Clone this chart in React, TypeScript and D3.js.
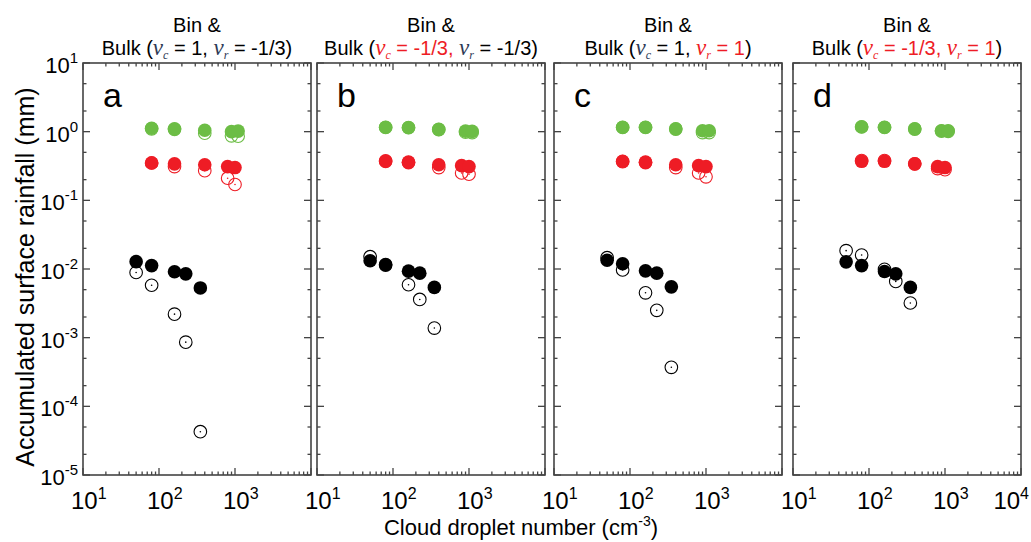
import React from 'react';
import * as d3 from 'd3';

// panel titles
const panelIds = ['a', 'b', 'c', 'd'];
const nuC = ['1', '-1/3', '1', '-1/3'];
const nuR = ['-1/3', '-1/3', '1', '1'];
const nuCRed = [false, true, false, true];
const nuRRed = [false, false, true, true];

// cloud droplet number (cm-3)
const greenX = [80, 160, 400, 900, 1100];
const redX = [80, 160, 400, 800, 1000];
const blackX = [50, 80, 160, 225, 350];

// accumulated surface rainfall (mm), one row per panel
const greenBin = [
  [1.12, 1.10, 1.05, 1.00, 1.02],
  [1.16, 1.15, 1.08, 1.02, 1.01],
  [1.16, 1.16, 1.10, 1.03, 1.03],
  [1.18, 1.16, 1.10, 1.03, 1.03],
];
const greenBulk = [
  [1.10, 1.08, 0.95, 0.87, 0.86],
  [1.15, 1.14, 1.07, 0.98, 0.97],
  [1.15, 1.15, 1.09, 0.97, 0.97],
  [1.17, 1.15, 1.09, 1.02, 1.01],
];
const redBin = [
  [0.35, 0.34, 0.33, 0.31, 0.30],
  [0.375, 0.36, 0.33, 0.32, 0.31],
  [0.37, 0.36, 0.33, 0.32, 0.31],
  [0.37, 0.37, 0.34, 0.31, 0.30],
];
const redBulk = [
  [0.35, 0.31, 0.27, 0.21, 0.17],
  [0.37, 0.355, 0.30, 0.25, 0.24],
  [0.365, 0.355, 0.30, 0.25, 0.22],
  [0.38, 0.38, 0.34, 0.29, 0.28],
];
const blackBin = [
  [0.0128, 0.0112, 0.0091, 0.0085, 0.0053],
  [0.0132, 0.0116, 0.0093, 0.0087, 0.0054],
  [0.0134, 0.0119, 0.0094, 0.0087, 0.0055],
  [0.0127, 0.0112, 0.0092, 0.0085, 0.0054],
];
const blackBulk = [
  [0.0089, 0.0058, 0.0022, 0.00086, 0.0000427],
  [0.0151, 0.0114, 0.0059, 0.0036, 0.00138],
  [0.0146, 0.0097, 0.0045, 0.0025, 0.00037],
  [0.0185, 0.016, 0.0099, 0.0066, 0.0032],
];

const xMajor = [1, 2, 3, 4];
const yMajor = [1, 0, -1, -2, -3, -4, -5];

const GREEN = '#6cbd45';
const RED = '#ee1c25';
const NU_DARK = '#2e3a55';
const FONT = '"Liberation Sans", Arial, sans-serif';

const panelLeft = [83, 317, 554, 793];
const panelW = 228;
const top = 63;
const bottom = 475;
const R = 6.8;

const y = d3.scaleLog().domain([1e-5, 10]).range([bottom, top]);

function Panel({ i }: { i: number }) {
  const x = d3.scaleLog().domain([10, 1e4]).range([panelLeft[i], panelLeft[i] + panelW]);
  const x0 = panelLeft[i];
  const x1 = x0 + panelW;

  const xMinor: number[] = [];
  for (let e = 1; e < 4; e++) for (let m = 2; m <= 9; m++) xMinor.push(m * Math.pow(10, e));
  const yMinor: number[] = [];
  for (let e = -5; e < 1; e++) [2, 5].forEach(m => yMinor.push(m * Math.pow(10, e)));

  const axisCol = '#444';
  const ticks: JSX.Element[] = [];
  xMajor.forEach(e => {
    const px = x(Math.pow(10, e));
    ticks.push(<line key={'xb' + e} x1={px} x2={px} y1={bottom} y2={bottom - 7} />);
    ticks.push(<line key={'xt' + e} x1={px} x2={px} y1={top} y2={top + 7} />);
  });
  xMinor.forEach((v, k) => {
    const px = x(v);
    ticks.push(<line key={'xmb' + k} x1={px} x2={px} y1={bottom} y2={bottom - 3.5} />);
    ticks.push(<line key={'xmt' + k} x1={px} x2={px} y1={top} y2={top + 3.5} />);
  });
  yMajor.forEach(e => {
    const py = y(Math.pow(10, e));
    ticks.push(<line key={'yl' + e} x1={x0} x2={x0 + 7} y1={py} y2={py} />);
    ticks.push(<line key={'yr' + e} x1={x1} x2={x1 - 7} y1={py} y2={py} />);
  });
  yMinor.forEach((v, k) => {
    const py = y(v);
    ticks.push(<line key={'yml' + k} x1={x0} x2={x0 + 3.5} y1={py} y2={py} />);
    ticks.push(<line key={'ymr' + k} x1={x1} x2={x1 - 3.5} y1={py} y2={py} />);
  });

  const openSet = (xs: number[], ys: number[], col: string, key: string) =>
    ys.map((v, k) => (
      <g key={key + k}>
        <circle cx={x(xs[k])} cy={y(v)} r={R - 0.5} fill="none" stroke={col} strokeWidth={1.1} />
        <circle cx={x(xs[k])} cy={y(v)} r={0.8} fill={col} />
      </g>
    ));
  const fillSet = (xs: number[], ys: number[], col: string, key: string) =>
    ys.map((v, k) => <circle key={key + k} cx={x(xs[k])} cy={y(v)} r={R} fill={col} />);

  const cx = x0 + panelW / 2;
  const nu = (sub: string, col: string) => (
    <>
      <tspan fontFamily='"Liberation Serif", serif' fontStyle="italic" fill={col} fontSize={23}>ν</tspan>
      <tspan fill={col} fontFamily='"Liberation Serif", serif' fontStyle="italic" fontSize={12} dy={4}>{sub}</tspan>
    </>
  );
  const cCol = nuCRed[i] ? RED : '#000';
  const rCol = nuRRed[i] ? RED : '#000';

  return (
    <g>
      <text x={cx} y={32} textAnchor="middle" fontSize={20} fontFamily={FONT}>Bin &amp;</text>
      <text x={cx} y={55} textAnchor="middle" fontSize={20} fontFamily={FONT}>
        <tspan>{i === 0 ? 'Bulk  (' : 'Bulk ('}</tspan>
        {nu('c', nuCRed[i] ? RED : NU_DARK)}
        <tspan dy={-4} fill={cCol}>{' = ' + nuC[i] + ','}</tspan>
        <tspan> </tspan>
        {nu('r', nuRRed[i] ? RED : NU_DARK)}
        <tspan dy={-4} fill={rCol}>{' = ' + nuR[i]}</tspan>
        <tspan>)</tspan>
      </text>

      {openSet(greenX, greenBulk[i], GREEN, 'go')}
      {fillSet(greenX, greenBin[i], GREEN, 'gf')}
      {openSet(redX, redBulk[i], RED, 'ro')}
      {fillSet(redX, redBin[i], RED, 'rf')}
      {openSet(blackX, blackBulk[i], '#000', 'ko')}
      {fillSet(blackX, blackBin[i], '#000', 'kf')}

      <g stroke={axisCol} strokeWidth={1.3}>{ticks}</g>
      <rect x={x0} y={top} width={panelW} height={bottom - top} fill="none" stroke={axisCol} strokeWidth={1.6} />

      <text x={x0 + 20} y={107} fontSize={34} fontFamily={FONT}>{panelIds[i]}</text>

      {xMajor.filter(e => e < 4 || i === 3).map(e => (
        <text key={'xl' + e}
          x={e === 4 ? 1029 : x(Math.pow(10, e)) - 12}
          textAnchor={e === 4 ? 'end' : 'start'}
          y={509} fontSize={24} fontFamily={FONT}>
          10<tspan fontSize={16} dy={-10}>{e}</tspan>
        </text>
      ))}
    </g>
  );
}

export default function App() {
  return (
    <svg width={1031} height={542} style={{ position: 'absolute', left: 0, top: 0, background: '#fff' }}>
      <rect width={1031} height={542} fill="#fff" />
      {panelIds.map((_, i) => <Panel key={i} i={i} />)}
      {yMajor.map(e => (
        <text key={'yl' + e} x={78} y={y(Math.pow(10, e)) + 10} textAnchor="end" fontSize={22} fontFamily={FONT}>
          10<tspan fontSize={15} dy={-10}>{e}</tspan>
        </text>
      ))}
      <text transform="translate(34,277) rotate(-90)" textAnchor="middle" fontSize={25} fontFamily={FONT}>
        Accumulated surface rainfall (mm)
      </text>
      <text x={521} y={535} textAnchor="middle" fontSize={22} fontFamily={FONT}>
        Cloud droplet number (cm<tspan fontSize={14} dy={-9}>-3</tspan><tspan dy={9}>)</tspan>
      </text>
    </svg>
  );
}
